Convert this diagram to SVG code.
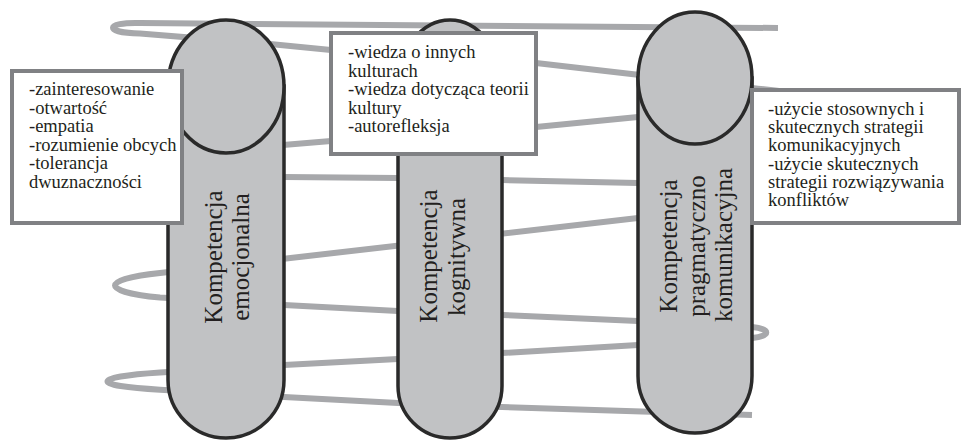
<svg xmlns="http://www.w3.org/2000/svg" width="962" height="440" viewBox="0 0 962 440">
  <style>
    .coil{fill:none;stroke:#a7a8ab;stroke-width:6;stroke-linejoin:round;stroke-linecap:butt}
    .pillar{fill:#c1c2c4;stroke:#2a2a2a;stroke-width:3.5}
    .box{fill:#ffffff;stroke:#808184;stroke-width:4}
    .note{font-family:"Liberation Serif","Times New Roman",serif;font-size:18.5px;fill:#231f20}
    .label{font-family:"Liberation Serif","Times New Roman",serif;font-size:25px;fill:#231f20;text-anchor:middle}
  </style>

  <!-- helix winding behind the three pillars -->
  <g id="connectors">
    <path class="coil" d="M778,28 L140,23 C104,22 104,33 140,33.5 L270,44 L331,50 L536,63 L640,75 L752,88
      C860,100 860,108 752,106 L638,117 L536,127 L331,141 L283,145 L182,155
      C110,160 110,172 182,176 L284,177 L398,178 L502,180 L638,183 L752,186
      C860,190 860,203 752,205 L638,218 L160,273
      C100,279 100,292 160,297.6 L284,305 L398,311 L502,315 L638,321 L752,327
      C771,329 771,336 752,338 L638,345 L502,353 L398,359 L284,365 L160,372.5
      C90,377 90,386 160,389.7 L284,397 L398,403 L502,407 L752,415"/>
  </g>

  <g id="pillar-emocjonalna">
    <path class="pillar" d="M168,86 V380 A58,58 0 0 0 284,380 V86 Z"/>
    <ellipse class="pillar" cx="226" cy="86.5" rx="58" ry="66.5"/>
    <text class="label" transform="translate(222,257) rotate(-90)">Kompetencja</text>
    <text class="label" transform="translate(249,257) rotate(-90)">emocjonalna</text>
  </g>

  <g id="pillar-kognitywna">
    <path class="pillar" d="M398,87 V386 A52,52 0 0 0 502,386 V87 Z"/>
    <ellipse class="pillar" cx="450" cy="87" rx="52" ry="67"/>
    <text class="label" transform="translate(437,256) rotate(-90)">Kompetencja</text>
    <text class="label" transform="translate(465,257) rotate(-90)">kognitywna</text>
  </g>

  <g id="pillar-pragmatyczno">
    <path class="pillar" d="M638,78 V376 A57,57 0 0 0 752,376 V78 Z"/>
    <ellipse class="pillar" cx="695" cy="78" rx="57" ry="66"/>
    <text class="label" transform="translate(677,246) rotate(-90)">Kompetencja</text>
    <text class="label" transform="translate(705,246) rotate(-90)">pragmatyczno</text>
    <text class="label" transform="translate(732,245) rotate(-90)">komunikacyjna</text>
  </g>

  <g id="box-emocjonalna">
    <rect class="box" x="12" y="71" width="170" height="152"/>
    <text class="note" x="29" y="95">-zainteresowanie</text>
    <text class="note" x="29" y="113.6">-otwartość</text>
    <text class="note" x="29" y="132.2">-empatia</text>
    <text class="note" x="29" y="150.8">-rozumienie obcych</text>
    <text class="note" x="29" y="169.4">-tolerancja</text>
    <text class="note" x="29" y="188">dwuznaczności</text>
  </g>

  <g id="box-kognitywna">
    <rect class="box" x="331" y="33" width="205" height="121"/>
    <text class="note" x="348" y="58.3">-wiedza o innych</text>
    <text class="note" x="348" y="76.8">kulturach</text>
    <text class="note" x="348" y="95.3">-wiedza dotycząca teorii</text>
    <text class="note" x="348" y="113.8">kultury</text>
    <text class="note" x="348" y="132.3">-autorefleksja</text>
  </g>

  <g id="box-pragmatyczno">
    <rect class="box" x="752" y="90" width="207" height="133"/>
    <text class="note" x="768" y="115">-użycie stosownych i</text>
    <text class="note" x="768" y="133.2">skutecznych strategii</text>
    <text class="note" x="768" y="151.4">komunikacyjnych</text>
    <text class="note" x="768" y="169.6">-użycie skutecznych</text>
    <text class="note" x="768" y="187.8">strategii rozwiązywania</text>
    <text class="note" x="768" y="206">konfliktów</text>
  </g>
</svg>
